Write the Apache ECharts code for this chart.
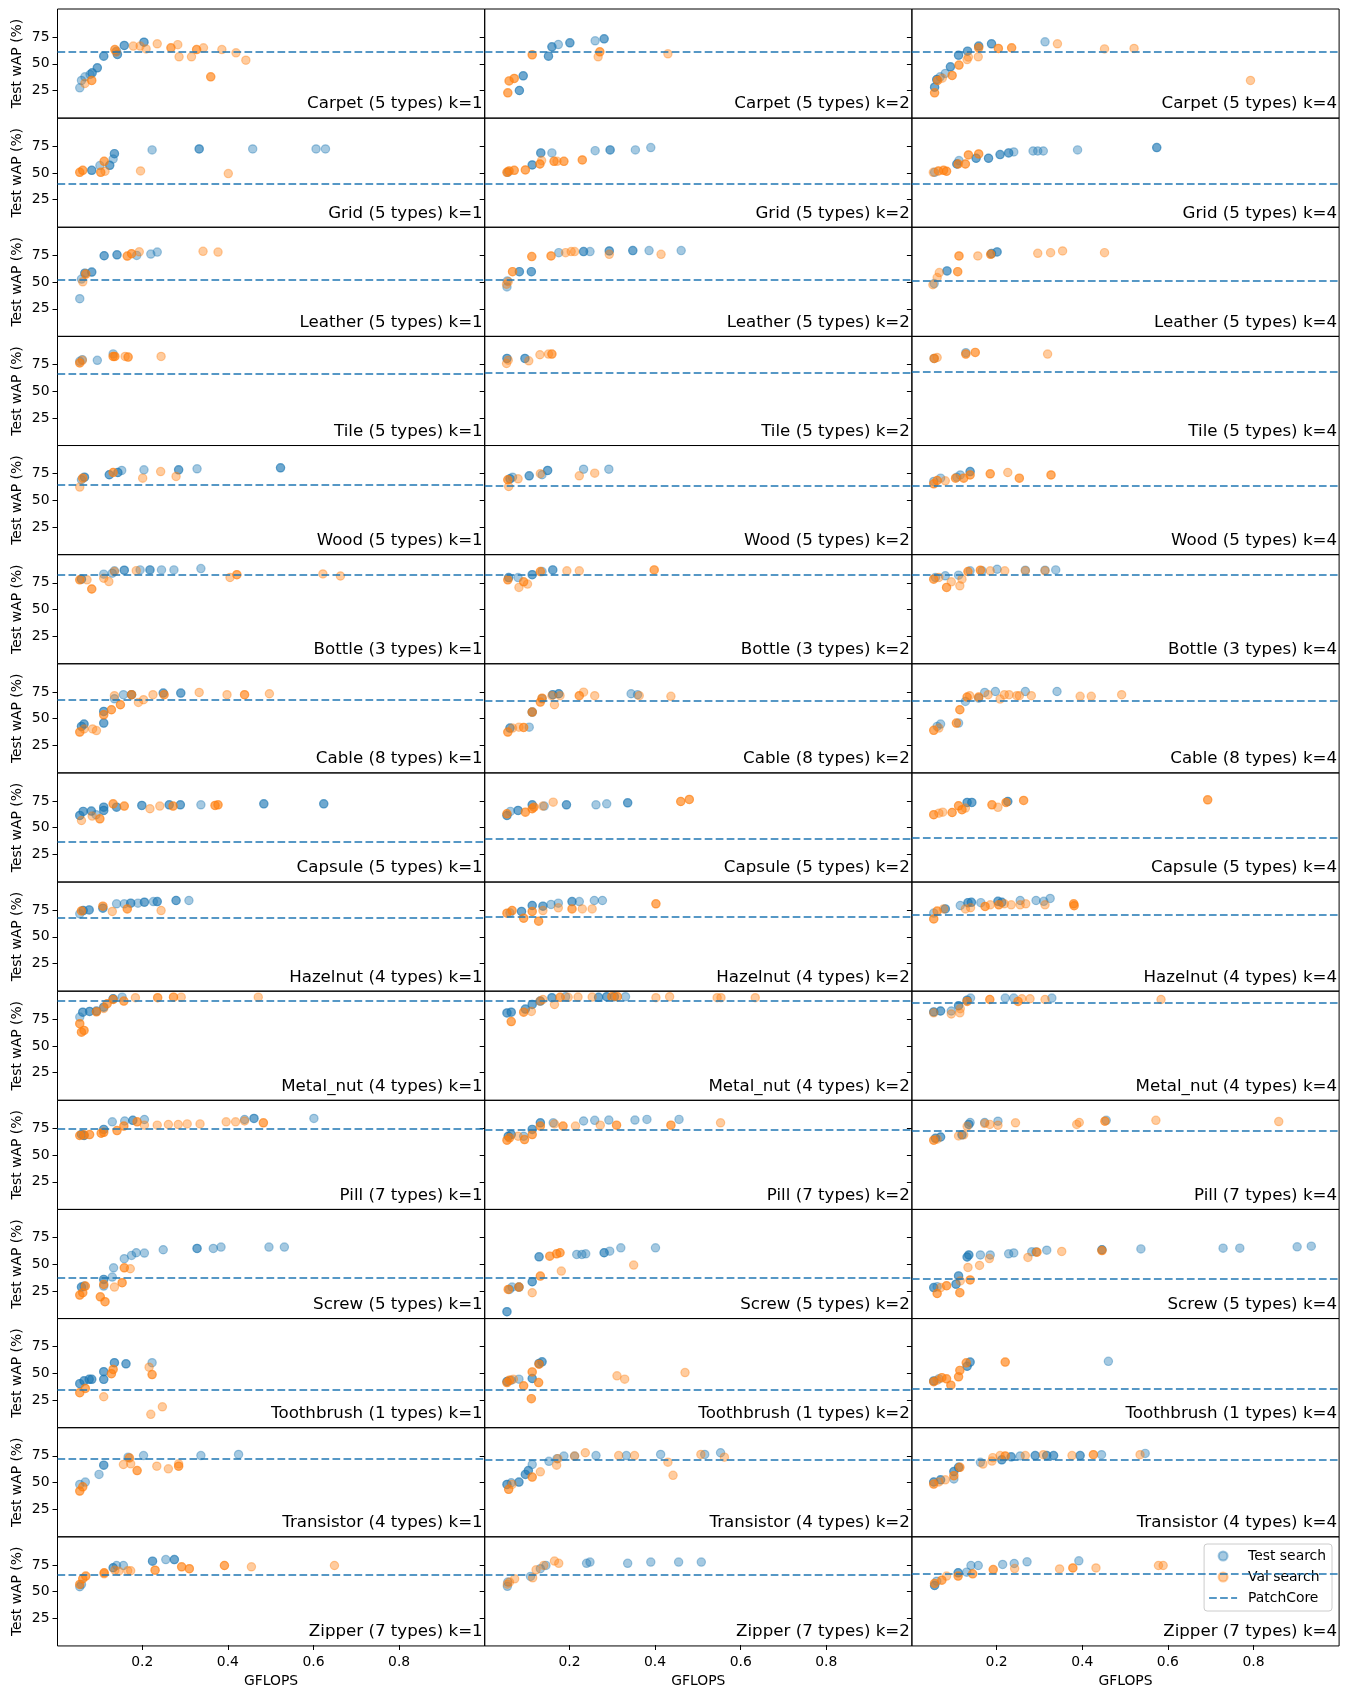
<!DOCTYPE html>
<html>
<head>
<meta charset="utf-8">
<script src="https://cdn.jsdelivr.net/npm/echarts@6/dist/echarts.min.js"></script>
<style>
    html, body {margin:0;padding:0;background:#fff;}
    #chart {width:1348px;height:1699px;}
</style>
</head>
<body>
<div id="chart"></div>
<script>
// ---- data (x = GFLOPS, y = Test wAP %, optional 3rd value = number of coincident runs) ----
var categories = ['Carpet', 'Grid', 'Leather', 'Tile', 'Wood', 'Bottle', 'Cable', 'Capsule',
    'Hazelnut', 'Metal_nut', 'Pill', 'Screw', 'Toothbrush', 'Transistor', 'Zipper'];
var typeCounts = [5, 5, 5, 5, 5, 3, 8, 5, 4, 4, 7, 5, 1, 4, 7];
var kValues = [1, 2, 4];
var xTicks = [0.2, 0.4, 0.6, 0.8];
var yTicks = [25, 50, 75];

// PatchCore reference per category, for k = 1, 2, 4
var patchCore = [
    [61, 61.5, 61], [39.7, 39.5, 39.5], [52.2, 52.5, 51.6], [66.1, 67.3, 68.5], [64.7, 63.8, 63.8],
    [82.2, 83, 82.2], [67.8, 67, 67], [36.5, 39.7, 40.3], [67.5, 68.4, 70.3], [92, 92, 91],
    [74.4, 73.5, 72.7], [37, 37, 36.7], [34.3, 34.3, 35.6], [71.9, 71, 71.3], [65.5, 66, 66.8]
];

var carpetTest = [
    [[0.054,27.5],[0.058,34.4],[0.066,37.8],[0.078,40],[0.083,41.6,2],[0.095,46.3,2],[0.110,57.2,2],[0.142,58.8,2],[0.140,61.9],[0.158,67.2,2],[0.204,70.3,2]],
    [[0.083,25,2],[0.092,38.8,2],[0.151,57.2,2],[0.159,65.9,2],[0.174,68.1],[0.201,69.7,2],[0.260,71.6],[0.281,73.4,2]],
    [[0.055,28.1,2],[0.060,35.3,2],[0.068,37.8],[0.080,41],[0.092,47.2,2],[0.111,58.1,2],[0.132,61.9,2],[0.158,66.6,2],[0.188,68.8,2],[0.313,70.6]]
];
var carpetVal = [
    [[0.066,31.6],[0.082,34.4,2],[0.136,63.4,2],[0.139,61],[0.179,66.6],[0.195,66.6],[0.209,64],[0.235,68.8],[0.267,65,2],[0.283,68],[0.286,56.6],[0.315,56.6],[0.327,63.4,2],[0.343,65],[0.360,37.8,2],[0.386,63.4],[0.419,60.3],[0.442,53.4]],
    [[0.056,22.8,2],[0.059,34,2],[0.071,36.3,2],[0.113,58.4,2],[0.267,56.6],[0.271,61.3,2],[0.430,59.4]],
    [[0.055,22.8,2],[0.062,34.4,2],[0.073,36.6],[0.096,39.1,2],[0.112,48.8,2],[0.131,54],[0.134,56.3],[0.157,56.6],[0.158,65,2],[0.204,64.4,2],[0.235,65,2],[0.342,68.8],[0.452,64],[0.521,64.4],[0.793,34.4]]
];
var gridTest = [
    [[0.082,52.5,2],[0.101,56.9],[0.124,57.2,2],[0.132,63.1],[0.135,68.1,2],[0.223,71.6],[0.333,72.5,2],[0.458,72.5],[0.606,72.5],[0.628,72.5]],
    [[0.056,50.6],[0.113,57.5,2],[0.133,68.8,2],[0.159,68.8],[0.260,70.9],[0.295,71.6,2],[0.354,71.6],[0.390,73.8]],
    [[0.055,50.6],[0.107,58.4,2],[0.112,61.6],[0.152,63.8,2],[0.181,63.8,2],[0.208,67.2,2],[0.228,68.8,2],[0.240,69.7],[0.285,70.6],[0.296,70.6],[0.309,70.6],[0.389,71.6],[0.574,73.8,2]]
];
var gridVal = [
    [[0.054,50.6,2],[0.061,52.5,2],[0.103,50.6,2],[0.111,60.9,2],[0.113,51.6],[0.196,51.9],[0.401,49.4]],
    [[0.054,50.6,2],[0.059,51.9,2],[0.071,52.5,2],[0.097,52.8,2],[0.131,58.4,2],[0.135,61.6],[0.164,60.9,2],[0.171,60.9],[0.187,60.9,2],[0.230,62.2,2]],
    [[0.052,50.6],[0.064,51.9,2],[0.076,52.5,2],[0.083,51.6,2],[0.110,58.4,2],[0.127,58.4,2],[0.134,66.9,2],[0.158,67.8,2]]
];
var leatherTest = [
    [[0.054,34.4],[0.058,52.8],[0.066,58.4,2],[0.082,59.4,2],[0.111,74.7,2],[0.141,75.6,2],[0.187,75],[0.220,76.3],[0.235,78.1]],
    [[0.054,45.5],[0.055,51.1],[0.083,59.8,2],[0.111,59.8,2],[0.175,77.6],[0.233,78.6,2],[0.248,78.6],[0.293,79.2,2],[0.348,79.5,2],[0.386,79.5],[0.461,79.5]],
    [[0.054,48.6],[0.084,60.5,2],[0.188,76.7,2],[0.201,78.3,2]]
];
var leatherVal = [
    [[0.061,50.3],[0.068,57.5,2],[0.165,74.4,2],[0.175,76.6,2],[0.193,78.4],[0.342,78.8],[0.377,78.1]],
    [[0.053,48],[0.057,50.4],[0.067,59.8,2],[0.112,73.9,2],[0.157,74.5,2],[0.191,77.6],[0.204,78.6],[0.212,78.6],[0.293,76],[0.414,76]],
    [[0.051,47.5],[0.061,54.2],[0.066,58.9],[0.109,59.8,2],[0.112,74.5,2],[0.156,74.5],[0.186,76,2],[0.296,77],[0.326,77.6],[0.354,79.2],[0.452,77.6]]
];
var tileTest = [
    [[0.054,78],[0.060,79.6],[0.095,79],[0.132,85]],
    [[0.054,80.7,2],[0.096,80.7,2]],
    [[0.054,80.7],[0.128,86.1]]
];
var tileVal = [
    [[0.054,76.5,2],[0.060,79],[0.132,82.6,2],[0.136,82.6,2],[0.160,82.6],[0.167,82,2],[0.244,82.6]],
    [[0.053,76],[0.057,79.1],[0.105,78.5],[0.131,84.2],[0.151,84.8],[0.159,84.8,2]],
    [[0.054,80.7,2],[0.061,81.6],[0.128,84.8,2],[0.150,86.4,2],[0.319,84.8]]
];
var woodTest = [
    [[0.058,69.3],[0.065,71.7,2],[0.123,74,2],[0.143,76.1,2],[0.152,78],[0.204,78.6],[0.285,78.6,2],[0.328,79.6],[0.523,80.5,2]],
    [[0.061,70.2,2],[0.067,71.7],[0.106,73,2],[0.136,74],[0.149,78,2],[0.233,79.2],[0.292,79.2]],
    [[0.053,67.7],[0.069,70.8],[0.107,71.7],[0.115,73.8],[0.138,77,2]]
];
var woodVal = [
    [[0.054,62.4],[0.061,70.8,2],[0.132,76.1,2],[0.201,70.8],[0.243,77],[0.279,72.4]],
    [[0.058,63],[0.056,69.3,2],[0.080,70.2],[0.132,75],[0.223,73],[0.259,75.5]],
    [[0.053,65.5,2],[0.061,68.6,2],[0.080,68.3],[0.104,70.8,2],[0.123,70.8,2],[0.138,73.8,2],[0.185,74.9,2],[0.226,76.1],[0.253,70.8,2],[0.327,73.8,2]]
];
var bottleTest = [
    [[0.058,78.4,2],[0.110,83.1],[0.130,84],[0.135,86.2],[0.158,86.8,2],[0.195,87.1],[0.218,87.1,2],[0.245,87.1],[0.274,87.1],[0.337,88.3]],
    [[0.058,79.9,2],[0.080,79.9],[0.113,82.6,2],[0.136,85.5],[0.161,87.1,2]],
    [[0.057,80],[0.080,81.6],[0.111,82.2],[0.138,86.2],[0.166,86.2],[0.201,87.7],[0.267,86.8],[0.313,86.8],[0.338,87.1]]
];
var bottleVal = [
    [[0.054,77.8,2],[0.071,77.8],[0.082,69.2,2],[0.110,79.3],[0.122,76.2],[0.135,85.5],[0.186,86.4],[0.405,80],[0.421,82.6,2],[0.622,83.3],[0.663,81.4]],
    [[0.056,77.8,2],[0.093,75.9,2],[0.082,70.7],[0.102,73.8],[0.132,85.5,2],[0.194,86.2],[0.223,86.2],[0.398,87.1,2]],
    [[0.053,78.4,2],[0.065,80],[0.083,70.7,2],[0.094,75.9],[0.114,72.2],[0.119,78.4],[0.133,85.5,2],[0.162,86.8,2],[0.185,86.2],[0.219,86.2],[0.267,86.2],[0.313,86.2]]
];
var cableTest = [
    [[0.058,42.7,2],[0.064,44.9,2],[0.110,45.8,2],[0.110,56.7,2],[0.135,68.6],[0.156,72.4],[0.175,72.4,2],[0.249,73.9,2],[0.290,73.9,2]],
    [[0.061,41.1,2],[0.106,42],[0.113,56.1,2],[0.136,68.6],[0.161,72.4,2],[0.175,73.3,2],[0.344,73.3],[0.359,72.4]],
    [[0.061,42.7],[0.069,44.9],[0.111,45.8],[0.127,66.1],[0.158,69.2],[0.172,74.5],[0.197,75.4],[0.267,75.4],[0.341,75.4]]
];
var cableVal = [
    [[0.054,37.4,2],[0.064,40.3],[0.084,40.3],[0.093,38.8],[0.110,53.6,2],[0.128,58.3,2],[0.149,63,2],[0.135,71.5],[0.175,72.4,2],[0.191,65.2],[0.203,67.7],[0.225,72.4],[0.251,72.4,2],[0.333,74.5],[0.398,72.4],[0.439,72.4,2],[0.497,73.3]],
    [[0.056,37.4,2],[0.067,41.1],[0.082,42],[0.093,41.7,2],[0.113,56.1,2],[0.132,65.5,2],[0.136,69.2,2],[0.165,63],[0.159,71.5],[0.178,71.5],[0.223,71.5,2],[0.233,74.8],[0.259,71.5],[0.363,71.5],[0.437,70.9]],
    [[0.053,39,2],[0.065,41.1],[0.106,45.8,2],[0.114,58.3,2],[0.131,70.2,2],[0.137,71.5],[0.158,70.2,2],[0.180,72.4],[0.208,68.3],[0.218,72.4],[0.229,72.4],[0.247,71.5],[0.253,71.5],[0.281,71.5],[0.395,70.9],[0.421,70.9],[0.492,72.4]]
];
var capsuleTest = [
    [[0.054,61.5,2],[0.062,65.3,2],[0.081,65.6,2],[0.092,62.2],[0.110,66.2,2],[0.110,69.3,2],[0.140,69.3,2],[0.199,70.9,2],[0.263,71.5,2],[0.289,71.5,2],[0.337,71.5],[0.484,72.4,2],[0.624,72.4,2]],
    [[0.054,61.5,2],[0.062,65.3],[0.080,66.2,2],[0.113,71.5,2],[0.141,70.3],[0.193,71.5,2],[0.262,71.5],[0.287,72.4],[0.336,73.4,2]],
    [[0.131,73.7,2],[0.142,73.7,2],[0.226,74.6,2]]
];
var capsuleVal = [
    [[0.058,56.8],[0.083,60.9],[0.101,58.4,2],[0.132,72.4,2],[0.158,70.3,2],[0.218,67.8],[0.241,70.3],[0.272,70.3,2],[0.370,70.9,2],[0.377,71.5,2]],
    [[0.054,63.1,2],[0.097,64.6,2],[0.113,67.8,2],[0.117,69.3,2],[0.138,70.3],[0.162,74],[0.460,74.6,2],[0.480,76.5,2]],
    [[0.053,62.2,2],[0.065,63.7],[0.074,64.6],[0.096,64.3,2],[0.111,70.6,2],[0.119,66.9,2],[0.127,68.4],[0.189,71.5,2],[0.203,69.1],[0.222,73.7,2],[0.263,75.6,2],[0.693,76.2,2]]
];
var hazelnutTest = [
    [[0.054,71.6],[0.062,74.7,2],[0.076,75.3,2],[0.108,76.9,2],[0.140,81],[0.158,81],[0.173,81.6,2],[0.190,81.6],[0.205,82.5,2],[0.226,83.1],[0.235,83.1,2],[0.279,84.1,2],[0.309,84.1]],
    [[0.061,72.5],[0.088,73.8,2],[0.113,79.4,2],[0.138,78.8,2],[0.157,80.4],[0.174,81.6],[0.206,83.1,2],[0.223,83.1],[0.258,84.1],[0.277,84.1]],
    [[0.053,72.3],[0.080,76.2,2],[0.115,79.4],[0.133,82.1,2],[0.141,82.4,2],[0.163,82.1],[0.203,83.3,2],[0.212,82.4,2],[0.255,84.1],[0.292,84.1],[0.310,83.3],[0.325,86]]
];
var hazelnutVal = [
    [[0.058,74.3,2],[0.108,78.8,2],[0.130,73.8],[0.165,76.2,2],[0.244,74.7]],
    [[0.054,72.2,2],[0.066,74.7,2],[0.093,67.5,2],[0.113,73.8,2],[0.128,64.7,2],[0.138,74.7],[0.174,77.2],[0.206,76.2,2],[0.230,76.2],[0.253,76.2],[0.402,81,2]],
    [[0.053,66.8,2],[0.061,74.2,2],[0.076,76.2],[0.127,76.2],[0.139,77.3],[0.173,78.5,2],[0.185,80],[0.205,80,2],[0.218,81],[0.234,80],[0.255,80],[0.268,81],[0.313,80],[0.380,81,2],[0.381,79.2,2]]
];
var metalNutTest = [
    [[0.054,77.1],[0.061,81.7,2],[0.077,82.4,2],[0.093,82.7,2],[0.110,86.4,2],[0.132,94.3,2],[0.153,95.8]],
    [[0.054,81,2],[0.064,81.7,2],[0.097,84.6,2],[0.113,89,2],[0.132,92.1,2],[0.159,95.3,2],[0.191,96.2],[0.268,95.6,2],[0.287,96.2,2],[0.305,96.2,2],[0.331,96.2]],
    [[0.053,81.9,2],[0.069,82.8,2],[0.094,82.8],[0.111,87.8,2],[0.131,93,2],[0.139,94.9],[0.220,94.9],[0.240,94.9],[0.329,94.9]]
];
var metalNutVal = [
    [[0.054,70.9,2],[0.058,63,2],[0.064,64.6,2],[0.093,82,2],[0.110,85.2],[0.118,89.6,2],[0.132,93.6,2],[0.157,92.1,2],[0.184,95.3],[0.236,95.3,2],[0.273,95.8,2],[0.291,95.8],[0.471,95.8]],
    [[0.064,72.9,2],[0.093,81.7,2],[0.111,82.4],[0.131,92.1],[0.138,93.6],[0.165,88.9],[0.178,95.6,2],[0.197,95.6],[0.220,95.9],[0.253,95.9],[0.299,96.2,2],[0.312,96.2,2],[0.402,95.3],[0.434,96.2],[0.545,95.3],[0.554,95.3],[0.634,95.3]],
    [[0.053,81.1],[0.094,80],[0.114,81.1],[0.115,85],[0.131,91.8,2],[0.184,93.6,2],[0.250,91.8,2],[0.259,94.3],[0.278,94.3],[0.313,93.6],[0.584,93.6]]
];
var pillTest = [
    [[0.058,69.4,2],[0.064,68.4,2],[0.110,74.1,2],[0.130,81.2],[0.159,82],[0.178,82.6,2],[0.205,83.4],[0.439,83.4],[0.461,84.4,2],[0.601,84.4]],
    [[0.057,67.7,2],[0.064,69.3,2],[0.093,67.7],[0.113,74.1,2],[0.132,80.3,2],[0.162,80.3],[0.233,82],[0.259,82.6],[0.292,82.9],[0.353,82.9],[0.381,83.5],[0.456,83.5]],
    [[0.057,65.8,2],[0.069,67,2],[0.119,69,2],[0.135,78.8,2],[0.138,80.6],[0.172,80.6],[0.203,81.8],[0.456,82.6]]
];
var pillVal = [
    [[0.054,68.4,2],[0.064,69,2],[0.077,69.3,2],[0.104,70.5,2],[0.110,71.4,2],[0.141,73,2],[0.157,77.2,2],[0.188,81.2,2],[0.205,78.1],[0.235,78.1],[0.261,78.7],[0.284,78.7],[0.305,79.3],[0.335,79.3],[0.396,81.2],[0.418,81.2],[0.439,82],[0.483,80.3,2]],
    [[0.054,64,2],[0.060,66.2,2],[0.080,67.7],[0.095,64.6,2],[0.113,69.3,2],[0.132,77.2,2],[0.165,79.3],[0.185,77.2,2],[0.214,77.2],[0.272,78.1],[0.310,78.1,2],[0.437,78.1,2],[0.553,80.3]],
    [[0.053,64,2],[0.061,65],[0.111,68],[0.123,69],[0.131,77],[0.172,79.6],[0.184,78.8],[0.203,78],[0.244,80.3],[0.387,78.8],[0.393,80.6],[0.453,81.8,2],[0.572,82.6],[0.859,81.5]]
];
var screwTest = [
    [[0.058,28.6,2],[0.064,29.6],[0.110,35.8,2],[0.110,29.6],[0.130,38],[0.133,46.7],[0.158,55.2],[0.175,58.3],[0.186,60.8],[0.205,60.5],[0.249,63.6],[0.328,64.8,2],[0.366,64.8],[0.384,66.1],[0.496,66.1],[0.532,66.1]],
    [[0.054,5.5,2],[0.060,26.4],[0.066,28.6],[0.082,28.6,2],[0.113,33.6,2],[0.129,57,2],[0.217,59.2],[0.229,59.2],[0.238,59.8],[0.281,60.8,2],[0.294,62.3],[0.320,65.4],[0.401,65.4]],
    [[0.053,28.1,2],[0.061,29],[0.105,31.3,2],[0.111,39.1,2],[0.131,56.8,2],[0.135,58.7,2],[0.162,58.7],[0.185,58.7],[0.228,59.8],[0.240,60.6],[0.282,61.7],[0.292,61.7],[0.317,63.2],[0.446,63.6,2],[0.537,64.4],[0.729,65.1],[0.768,65.1],[0.902,66.3],[0.935,67]]
];
var screwVal = [
    [[0.054,21.1,2],[0.061,23.3,2],[0.067,29.6,2],[0.102,19.5,2],[0.113,14.9,2],[0.110,31.1,2],[0.135,28.6],[0.153,32.7,2],[0.158,46.7,2],[0.172,45.8]],
    [[0.057,26.4,2],[0.082,28.6,2],[0.113,23.3],[0.132,38.9,2],[0.154,57.6,2],[0.170,59.8,2],[0.178,60.8,2],[0.181,43.6],[0.350,49.2]],
    [[0.061,22.6,2],[0.069,28.1],[0.083,29.9,2],[0.114,23.4,2],[0.115,34.4],[0.133,47],[0.138,35.3,2],[0.160,48.9],[0.183,55.3],[0.273,56.4],[0.294,61.3,2],[0.352,62],[0.446,62.8,2]]
];
var toothbrushTest = [
    [[0.054,40.4,2],[0.064,43,2],[0.076,44.4,2],[0.082,44.4,2],[0.110,44.4,2],[0.110,51.6,2],[0.135,60,2],[0.162,59,2],[0.223,60]],
    [[0.054,42.4,2],[0.064,43.6],[0.082,44.6],[0.113,45.2,2],[0.129,59.3,2],[0.136,60.8,2]],
    [[0.053,42.9,2],[0.065,44.9],[0.131,56.7,2],[0.138,60.6,2],[0.461,61.3]]
];
var toothbrushVal = [
    [[0.054,31.9,2],[0.067,35.9,2],[0.110,28.1],[0.128,49.7,2],[0.132,53.7,2],[0.216,55.8],[0.223,48.9,2],[0.220,11.6],[0.247,18.7]],
    [[0.054,41.4,2],[0.060,43.6,2],[0.069,44.6],[0.093,38.3,2],[0.113,51.4,2],[0.111,26.3,2],[0.128,41.4,2],[0.129,58.6,2],[0.311,47.7],[0.329,44.6],[0.470,50.8]],
    [[0.053,42.2,2],[0.061,43.6],[0.072,46,2],[0.083,44.9,2],[0.093,39,2],[0.111,46.8,2],[0.114,52.8,2],[0.129,59.9,2],[0.220,60.6,2]]
];
var transistorTest = [
    [[0.054,48.2],[0.067,50.4],[0.099,57.6],[0.110,66.3,2],[0.167,73.8],[0.203,75.3],[0.337,75.3],[0.425,76.3]],
    [[0.054,48.2,2],[0.064,49.8],[0.082,50.4,2],[0.097,57.6,2],[0.104,61.2,2],[0.113,66.9],[0.152,69.9],[0.171,72.4],[0.187,74.8],[0.212,74.8],[0.262,75.3],[0.333,75.3],[0.413,76.3],[0.516,76.3],[0.553,77.9]],
    [[0.053,50.5,2],[0.069,52.5,2],[0.100,53.3],[0.100,60.3,2],[0.111,64.2,2],[0.162,68.9],[0.212,71.3,2],[0.234,74.1,2],[0.255,74.9],[0.290,75.3,2],[0.317,75.3,2],[0.333,75.3,2],[0.395,75.3,2],[0.445,76.1],[0.547,77.3]]
];
var transistorVal = [
    [[0.054,42,2],[0.061,46,2],[0.156,66.9],[0.170,73.1,2],[0.173,67.5],[0.188,61.2,2],[0.234,65.3],[0.261,62.8],[0.285,65.3,2],[0.285,67.5]],
    [[0.058,43.6,2],[0.066,48.2],[0.113,55.1,2],[0.132,60],[0.170,66.3],[0.173,72.4],[0.212,74.8],[0.237,77.9],[0.315,75.3],[0.352,75.3],[0.430,69.1],[0.442,56.7],[0.507,76.3],[0.562,73.8]],
    [[0.053,48.5,2],[0.065,50.5],[0.080,52.5],[0.100,56.4,2],[0.114,64.2,2],[0.168,67.3],[0.189,70.1],[0.191,73.3],[0.208,75.3],[0.220,74.9,2],[0.267,75.3],[0.309,76.1],[0.376,75.3],[0.426,76.1,2],[0.535,76.1]]
];
var zipperTest = [
    [[0.054,54.6],[0.058,56.8],[0.132,72.4,2],[0.140,74.5],[0.156,74.5],[0.224,78.6,2],[0.255,80.1],[0.275,80.1,2]],
    [[0.055,55],[0.056,59],[0.109,64.3],[0.132,71.5],[0.145,74.6],[0.240,76.6],[0.248,77.7],[0.336,76.6],[0.390,77.7],[0.455,77.7],[0.508,77.7]],
    [[0.055,55.8,2],[0.060,59.8],[0.110,67.7,2],[0.130,68.3],[0.140,74.5],[0.157,74.5],[0.214,75.5],[0.241,76.4],[0.271,78],[0.392,78.9]]
];
var zipperVal = [
    [[0.054,56.8,2],[0.061,62.1,2],[0.068,64.6,2],[0.111,67.7,2],[0.111,66.7],[0.136,70.1],[0.145,69.2],[0.166,69.6],[0.173,69.6],[0.230,70.1,2],[0.292,73.3,2],[0.310,71.5,2],[0.392,74.5,2],[0.455,73.3],[0.649,74.5]],
    [[0.055,57],[0.060,59],[0.072,62],[0.114,63],[0.122,70.5],[0.140,74.6],[0.165,78.7],[0.175,76.6]],
    [[0.055,57.7,2],[0.072,60.8,2],[0.083,64.6],[0.110,64.6,2],[0.144,66.7,2],[0.192,70.7,2],[0.242,71.6],[0.347,71.3],[0.378,72.2,2],[0.432,72.2],[0.578,74.5],[0.589,74.5]]
];

var testSets = [carpetTest, gridTest, leatherTest, tileTest, woodTest, bottleTest, cableTest, capsuleTest,
    hazelnutTest, metalNutTest, pillTest, screwTest, toothbrushTest, transistorTest, zipperTest];
var valSets = [carpetVal, gridVal, leatherVal, tileVal, woodVal, bottleVal, cableVal, capsuleVal,
    hazelnutVal, metalNutVal, pillVal, screwVal, toothbrushVal, transistorVal, zipperVal];

// ---- layout ----
var FONT = '"DejaVu Sans", "Liberation Sans", sans-serif';
var LEFT0 = 57.5, COL_W = 427.2, TOP0 = 9, ROW_H = 109.13;
var BLUE = 'rgba(31,119,180,0.5)', ORANGE = 'rgba(255,127,14,0.5)', LINE_BLUE = '#1f77b4';

// coincident runs are drawn once per run, like the overlapping alpha markers
function expand(pts) {
    var out = [];
    pts.forEach(function (p) {
        var n = p[2] || 1;
        for (var i = 0; i < n; i++) out.push([p[0], p[1]]);
    });
    return out;
}

var grids = [], xAxes = [], yAxes = [], series = [], texts = [];
var nRows = categories.length;

categories.forEach(function (cat, r) {
    kValues.forEach(function (k, c) {
        var idx = r * 3 + c;
        var left = LEFT0 + c * COL_W, top = TOP0 + r * ROW_H;
        var isBottom = r === nRows - 1;
        grids.push({
            left: left, top: top, width: COL_W, height: ROW_H,
            show: true, borderColor: '#000', borderWidth: 1, backgroundColor: 'transparent',
            containLabel: false, outerBoundsMode: 'none'
        });
        xAxes.push({
            gridIndex: idx, type: 'value', min: 0.002, max: 1.0,
            axisLine: {show: false}, splitLine: {show: false},
            axisTick: {show: isBottom, customValues: xTicks, length: 5, lineStyle: {color: '#000', width: 1}},
            axisLabel: {show: isBottom, customValues: xTicks, margin: 9, color: '#000', fontSize: 13.9, fontFamily: FONT},
            name: isBottom ? 'GFLOPS' : '', nameLocation: 'middle', nameGap: 28,
            nameTextStyle: {color: '#000', fontSize: 13.9, fontFamily: FONT}
        });
        yAxes.push({
            gridIndex: idx, type: 'value', min: -0.9, max: 101.4,
            axisLine: {show: false}, splitLine: {show: false},
            axisTick: {show: true, customValues: yTicks, length: 5, lineStyle: {color: '#000', width: 1}},
            axisLabel: {show: c === 0, customValues: yTicks, margin: 8, color: '#000', fontSize: 13.9, fontFamily: FONT},
            name: c === 0 ? 'Test wAP (%)' : '', nameLocation: 'middle', nameGap: 33, nameRotate: 90,
            nameTextStyle: {color: '#000', fontSize: 13.9, fontFamily: FONT}
        });
        series.push({
            type: 'scatter', name: 'Test search', xAxisIndex: idx, yAxisIndex: idx,
            data: expand(testSets[r][c]), symbolSize: 8.3,
            itemStyle: {color: BLUE, borderColor: BLUE, borderWidth: 1.2}, silent: true
        });
        series.push({
            type: 'scatter', name: 'Val search', xAxisIndex: idx, yAxisIndex: idx,
            data: expand(valSets[r][c]), symbolSize: 8.3,
            itemStyle: {color: ORANGE, borderColor: ORANGE, borderWidth: 1.2}, silent: true
        });
        series.push({
            type: 'line', name: 'PatchCore', xAxisIndex: idx, yAxisIndex: idx, data: [],
            itemStyle: {color: LINE_BLUE}, lineStyle: {color: LINE_BLUE},
            markLine: {
                silent: true, symbol: ['none', 'none'], label: {show: false},
                lineStyle: {color: LINE_BLUE, width: 1.5, type: [7.7, 3.3], opacity: 1},
                emphasis: {disabled: true},
                data: [{yAxis: patchCore[r][c]}]
            }
        });
        texts.push({
            type: 'text', x: left + COL_W - 2, y: top + ROW_H - 14, silent: true,
            style: {
                text: cat + ' (' + typeCounts[r] + ' types) k=' + k,
                fill: '#000', font: '16.67px ' + FONT,
                align: 'right', textAlign: 'right', verticalAlign: 'middle', textVerticalAlign: 'middle'
            }
        });
    });
});

var dashIcon = 'path://M0,0h0.01v0.01h-0.01z M27.99,8.99h0.01v0.01h-0.01z ' +
    'M0,3.75h7.7v1.5h-7.7z M11,3.75h7.7v1.5h-7.7z M22,3.75h6v1.5h-6z';

var chart = echarts.init(document.getElementById('chart'), null, {renderer: 'canvas'});
chart.setOption({
    animation: false,
    backgroundColor: '#fff',
    grid: grids,
    xAxis: xAxes,
    yAxis: yAxes,
    series: series,
    graphic: {elements: texts},
    legend: {
        orient: 'vertical', right: 16, top: 1544,
        selectedMode: false,
        data: [
            {name: 'Test search', icon: 'circle'},
            {name: 'Val search', icon: 'circle'},
            {name: 'PatchCore', icon: dashIcon}
        ],
        itemWidth: 28, itemHeight: 9, itemGap: 5,
        padding: [4, 6, 5, 5],
        backgroundColor: 'rgba(255,255,255,0.8)', borderColor: '#cccccc', borderWidth: 1, borderRadius: 3,
        textStyle: {color: '#000', fontSize: 13.9, fontFamily: FONT, lineHeight: 16, padding: [0, 0, 0, 6]}
    }
});
</script>
</body>
</html>
